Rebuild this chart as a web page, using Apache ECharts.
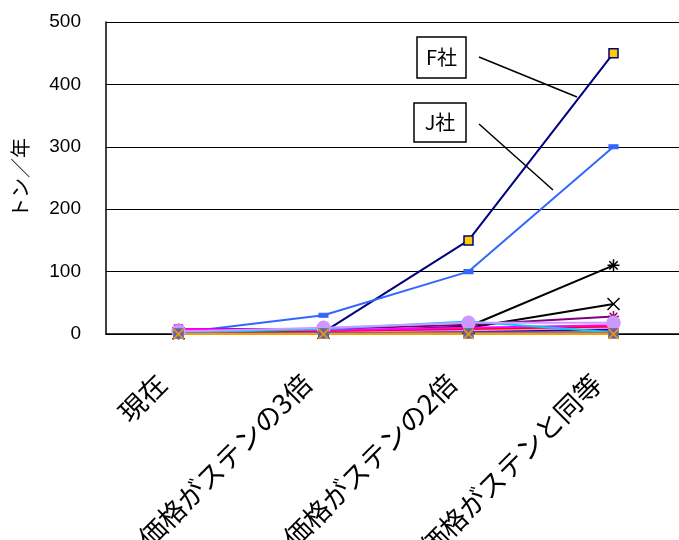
<!DOCTYPE html>
<html>
<head>
<meta charset="utf-8">
<script src="https://cdn.jsdelivr.net/npm/echarts@6/dist/echarts.min.js"></script>
<style>
  html, body { margin: 0; padding: 0; background: #fff; }
  #chart { width: 679px; height: 540px; }
</style>
</head>
<body>
<div id="chart"></div>
<script>
var categories = ["現在", "価格がステンの3倍", "価格がステンの2倍", "価格がステンと同等"];
var yTicks = [0, 100, 200, 300, 400, 500];

// series values (トン/年)
var fSha = [3, 3, 150, 450];
var jSha = [2, 30, 100, 300];
var blackStar = [1, 3, 12, 110];
var blackCross = [1, 2, 10, 48];
var purple = [8, 8, 15, 28];
var lavender = [4, 10, 18, 18];
var red = [3, 5, 8, 12];
var magenta = [8, 6, 10, 14];
var pink = [5, 4, 6, 10];
var cyan = [2, 8, 20, 3];
var orange = [0, 0, 0, 0];
var slate = [1, 1, 1, 1];
var gray = [0, 1, 2, 2];
var brown = [1, 2, 4, 6];
var blue = [1, 2, 5, 8];
var lightBlue = [0, 2, 3, 4];

var ASTER = "path://M0,5 L10,5 M5,0 L5,10 M1.5,1.5 L8.5,8.5 M8.5,1.5 L1.5,8.5";
var CROSS = "path://M0,0 L10,10 M10,0 L0,10";

function ser(name, data, color, symbol, size, fill, border) {
  return {
    name: name,
    type: "line",
    data: data,
    symbol: symbol,
    symbolSize: size,
    showSymbol: symbol !== "none",
    lineStyle: { color: color, width: 2 },
    itemStyle: { color: fill || color, borderColor: border || color, borderWidth: 1.5 },
    emphasis: { disabled: true }
  };
}

var chart = echarts.init(document.getElementById("chart"));

// Excel draws later series on top, so F社 goes first
var seriesList = [
  ser("F社", fSha, "#000080", "rect", 9, "#FFCC00", "#000080"),
  ser("J社", jSha, "#3366FF", "rect", [8, 4]),
  ser("blackStar", blackStar, "#000000", ASTER, 12, "none", "#000"),
  ser("blackCross", blackCross, "#000000", CROSS, 12, "none", "#000"),
  ser("purple", purple, "#800080", ASTER, 11, "none", "#990066"),
  ser("lightBlue", lightBlue, "#99CCFF", "none", 0),
  ser("brown", brown, "#993300", "none", 0),
  ser("blue", blue, "#0000FF", "none", 0),
  ser("pink", pink, "#FF99CC", "none", 0),
  ser("red", red, "#FF0000", "none", 0),
  ser("magenta", magenta, "#FF00FF", "rect", 8),
  ser("cyan", cyan, "#00CCFF", "triangle", 9),
  ser("lavender", lavender, "#CC99FF", "circle", 13),
  ser("gray", gray, "#969696", "triangle", 8),
  ser("slate", slate, "#666699", "rect", 9, "#666699", "#666699"),
  ser("orange", orange, "#FF9900", CROSS, 10, "#FF9900", "#FF9900")
];
seriesList.forEach(function (s, i) { s.z = 2; s.z2 = i; });

var option = {
  animation: false,
  backgroundColor: "#fff",
  grid: { left: 106, top: 22, bottom: 206, width: 580, containLabel: false, outerBoundsMode: "none" },
  xAxis: {
    type: "category",
    data: categories,
    boundaryGap: true,
    axisLine: { lineStyle: { color: "#000", width: 1.5 } },
    axisTick: { inside: true, length: 5, lineStyle: { color: "#000" } },
    axisLabel: {
      rotate: 45,
      margin: 28,
      padding: [0, 24, 0, 0],
      interval: 0,
      hideOverlap: false,
      color: "#000",
      fontSize: 27,
      fontFamily: "Noto Sans CJK JP"
    }
  },
  yAxis: {
    type: "value",
    min: 0,
    max: 500,
    interval: 100,
    name: "トン／年",
    nameLocation: "middle",
    nameRotate: 90,
    nameGap: 76,
    nameTextStyle: { color: "#000", fontSize: 20, fontFamily: "Noto Sans CJK JP" },
    axisLine: { show: true, lineStyle: { color: "#000", width: 1.5 } },
    axisTick: { show: false },
    axisLabel: {
      margin: 25,
      color: "#000",
      fontSize: 19,
      fontFamily: "Liberation Sans",
      formatter: function (v) { return yTicks.indexOf(v) >= 0 ? String(v) : ""; }
    },
    splitLine: { lineStyle: { color: "#000", width: 1 } }
  },
  series: seriesList,
  graphic: [
    { type: "line", shape: { x1: 479, y1: 57, x2: 577, y2: 97 }, style: { stroke: "#000", lineWidth: 1.5 }, z: 10 },
    { type: "line", shape: { x1: 479, y1: 124, x2: 553, y2: 190 }, style: { stroke: "#000", lineWidth: 1.5 }, z: 10 },
    {
      type: "rect", shape: { x: 417, y: 37, width: 49, height: 41 },
      style: { fill: "#fff", stroke: "#000", lineWidth: 1.5 }, z: 10
    },
    {
      type: "text", x: 441.5, y: 57.5,
      style: { text: "F社", fill: "#000", fontSize: 20, fontFamily: "Noto Sans CJK JP", align: "center", verticalAlign: "middle" }, z: 11
    },
    {
      type: "rect", shape: { x: 414, y: 103, width: 52, height: 39 },
      style: { fill: "#fff", stroke: "#000", lineWidth: 1.5 }, z: 10
    },
    {
      type: "text", x: 440, y: 122.5,
      style: { text: "J社", fill: "#000", fontSize: 20, fontFamily: "Noto Sans CJK JP", align: "center", verticalAlign: "middle" }, z: 11
    }
  ]
};

chart.setOption(option);
</script>
</body>
</html>
